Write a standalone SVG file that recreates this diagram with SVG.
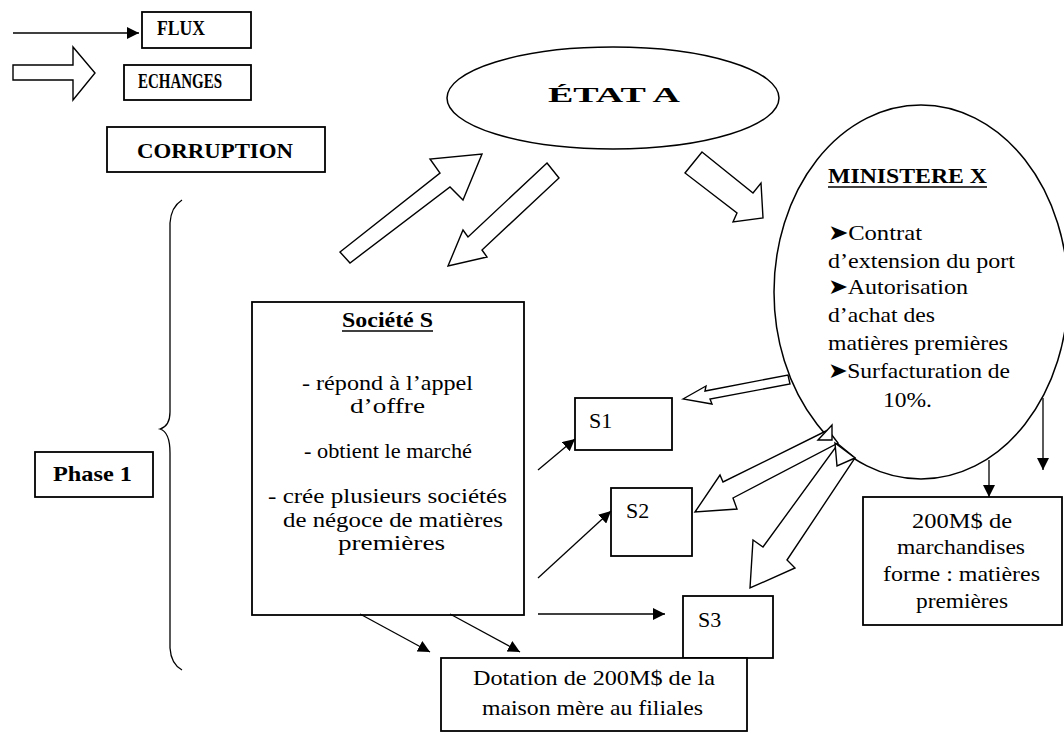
<svg xmlns="http://www.w3.org/2000/svg" width="1064" height="742" viewBox="0 0 1064 742">
<style>
.box{fill:#fff;stroke:#000;stroke-width:1.8}
.ell{fill:#fff;stroke:#000;stroke-width:1.5}
.hol{fill:#fff;stroke:#000;stroke-width:1.4;stroke-linejoin:miter}
.ln{fill:none;stroke:#000;stroke-width:1.3}
.t{font-family:"Liberation Serif","Times New Roman",serif;fill:#000;font-size:22px}
.b{font-weight:bold}
.ul{stroke:#000;stroke-width:1.5}
</style>
<defs>
<marker id="ah" viewBox="0 0 12 12" refX="12" refY="6" markerWidth="12" markerHeight="12" markerUnits="userSpaceOnUse" orient="auto">
<path d="M0,0 L12,6 L0,12 z" fill="#000"/>
</marker>
</defs>
<rect width="1064" height="742" fill="#fff"/>

<g id="legend-flux">
<line class="ln" x1="13" y1="33" x2="139" y2="33" marker-end="url(#ah)"/>
<rect class="box" x="142" y="12" width="109" height="36"/>
<text class="t b" x="157" y="35" font-size="15" textLength="48" lengthAdjust="spacingAndGlyphs">FLUX</text>
</g>
<g id="legend-echanges">
<polygon class="hol" points="13,65 73,65 73,47 95,73 73,100 73,80 13,80"/>
<rect class="box" x="124" y="65" width="127" height="35"/>
<text class="t b" x="138" y="88" font-size="13" textLength="84" lengthAdjust="spacingAndGlyphs">ECHANGES</text>
</g>
<g id="legend-corruption">
<rect class="box" x="107" y="127" width="218" height="45"/>
<text class="t b" x="137" y="158" font-size="22" textLength="156" lengthAdjust="spacingAndGlyphs">CORRUPTION</text>
</g>

<g id="phase1">
<path class="ln" d="M182,200 Q171,207 170,223 L170,412 Q170,426 160,429 Q170,432 170,453 L170,648 Q171,664 182,670"/>
<rect class="box" x="35" y="452" width="118" height="45"/>
<text class="t b" x="53" y="481" font-size="20" textLength="79" lengthAdjust="spacingAndGlyphs">Phase 1</text>
</g>

<g id="etat-a">
<ellipse class="ell" cx="613" cy="98" rx="166" ry="51"/>
<text class="t b" x="548" y="102" font-size="33" textLength="132" lengthAdjust="spacingAndGlyphs">ÉTAT A</text>
</g>

<g id="ministere-x">
<ellipse class="ell" cx="921" cy="292" rx="147" ry="187"/>
<text class="t b" x="828" y="183" font-size="21" textLength="159" lengthAdjust="spacingAndGlyphs">MINISTERE X</text>
<line class="ul" x1="828" y1="187" x2="987" y2="187"/>
<text class="t" x="828" y="240" textLength="94" lengthAdjust="spacingAndGlyphs">➤Contrat</text>
<text class="t" x="828" y="268" textLength="187" lengthAdjust="spacingAndGlyphs">d’extension du port</text>
<text class="t" x="828" y="294" textLength="140" lengthAdjust="spacingAndGlyphs">➤Autorisation</text>
<text class="t" x="828" y="322" textLength="107" lengthAdjust="spacingAndGlyphs">d’achat des</text>
<text class="t" x="828" y="350" textLength="180" lengthAdjust="spacingAndGlyphs">matières premières</text>
<text class="t" x="828" y="378" textLength="182" lengthAdjust="spacingAndGlyphs">➤Surfacturation de</text>
<text class="t" x="883" y="407" textLength="49" lengthAdjust="spacingAndGlyphs">10%.</text>
</g>

<g id="societe-s">
<rect class="box" x="252" y="302" width="272" height="313"/>
<text class="t b" x="342" y="327" font-size="19" textLength="91" lengthAdjust="spacingAndGlyphs">Société S</text>
<line class="ul" x1="342" y1="331" x2="433" y2="331"/>
<text class="t" x="302" y="390" textLength="171" lengthAdjust="spacingAndGlyphs">- répond à l’appel</text>
<text class="t" x="350" y="413" textLength="75" lengthAdjust="spacingAndGlyphs">d’offre</text>
<text class="t" x="304" y="458" textLength="168" lengthAdjust="spacingAndGlyphs">- obtient le marché</text>
<text class="t" x="268" y="503" textLength="239" lengthAdjust="spacingAndGlyphs">- crée plusieurs sociétés</text>
<text class="t" x="283" y="527" textLength="220" lengthAdjust="spacingAndGlyphs">de négoce de matières</text>
<text class="t" x="338" y="550" textLength="107" lengthAdjust="spacingAndGlyphs">premières</text>
</g>

<g id="s1">
<rect class="box" x="575" y="398" width="97" height="52"/>
<text class="t" x="589" y="428">S1</text>
</g>
<g id="s2">
<rect class="box" x="611" y="488" width="81" height="68"/>
<text class="t" x="626" y="518">S2</text>
</g>
<g id="s3">
<rect class="box" x="683" y="596" width="90" height="62"/>
<text class="t" x="698" y="627">S3</text>
</g>

<g id="dotation">
<rect class="box" x="441" y="658" width="306" height="73"/>
<text class="t" x="473" y="685" textLength="242" lengthAdjust="spacingAndGlyphs">Dotation de 200M$ de la</text>
<text class="t" x="482" y="715" textLength="221" lengthAdjust="spacingAndGlyphs">maison mère au filiales</text>
</g>

<g id="marchandises">
<rect class="box" x="863" y="497" width="199" height="128"/>
<text class="t" x="912" y="528" textLength="100" lengthAdjust="spacingAndGlyphs">200M$ de</text>
<text class="t" x="897" y="554" textLength="128" lengthAdjust="spacingAndGlyphs">marchandises</text>
<text class="t" x="883" y="581" textLength="157" lengthAdjust="spacingAndGlyphs">forme : matières</text>
<text class="t" x="916" y="608" textLength="92" lengthAdjust="spacingAndGlyphs">premières</text>
</g>

<g id="connectors">
<polygon class="hol" points="340,252 440,173 430,159 482,154 463,200 450,187 350,263"/>
<polygon class="hol" points="547,163 559,178 482,250 487,257 448,266 463,230 468,237"/>
<polygon class="hol" points="702,152 753,193 761,183 763,218 733,222 737,213 685,173"/>
<polygon class="hol" points="683,399 706,386 705,391 788,375 790,384 710,399 712,404"/>
<polygon class="hol" points="695,512 720,475 723,482 828,430 838,443 733,498 737,509"/>
<polygon class="hol" points="750,588 753,540 763,547 838,444 855,458 787,560 795,568"/>
<polygon class="hol" points="818,440 832,425 832,440"/>
<polygon class="hol" points="835,443 855,458 837,466"/>
<line class="ln" x1="538" y1="470" x2="575" y2="439" marker-end="url(#ah)"/>
<line class="ln" x1="538" y1="578" x2="611" y2="511" marker-end="url(#ah)"/>
<line class="ln" x1="538" y1="614" x2="665" y2="614" marker-end="url(#ah)"/>
<line class="ln" x1="360" y1="614" x2="430" y2="652" marker-end="url(#ah)"/>
<line class="ln" x1="450" y1="614" x2="520" y2="652" marker-end="url(#ah)"/>
<line class="ln" x1="989" y1="460" x2="989" y2="497" marker-end="url(#ah)"/>
<line class="ln" x1="1043" y1="398" x2="1043" y2="470" marker-end="url(#ah)"/>
</g>
</svg>
